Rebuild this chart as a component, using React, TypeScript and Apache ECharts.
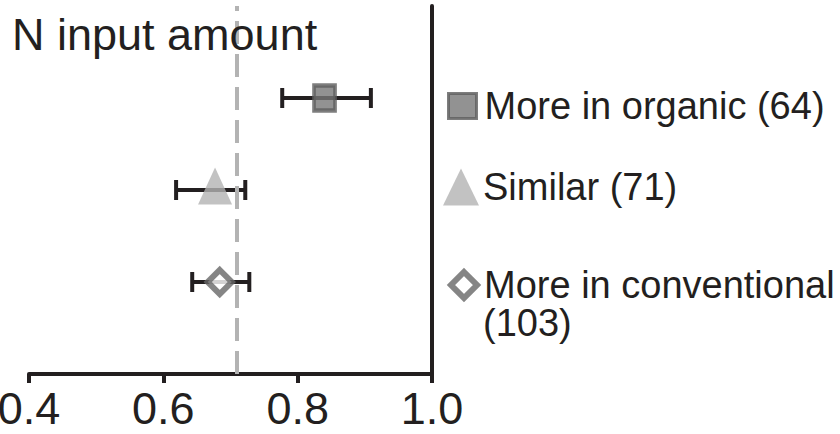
import React, { useEffect, useRef } from "react";
import * as echarts from "echarts";

const groups = ["More in organic (64)", "Similar (71)", "More in conventional (103)"];
const legendLines = ["More in organic (64)", "Similar (71)", "More in conventional"];
const extraLegendLine = "(103)";
const means = [0.84, 0.677, 0.684];
const lower = [0.777, 0.619, 0.643];
const upper = [0.909, 0.722, 0.728];
const rowPos = [3, 2, 1];
const referenceValue = 0.71;
const xTicks = [0.4, 0.6, 0.8, 1.0];
const titleText = "N input amount";

const INK = "#231f20";
const FONT = "'Liberation Sans', Arial, sans-serif";

export default function App() {
  const ref = useRef<HTMLDivElement>(null);
  useEffect(() => {
    if (!ref.current) return;
    const chart = echarts.init(ref.current, undefined, { renderer: "svg" });

    const symbols = [
      { symbol: "rect", size: [21, 25], offset: [0, 0], item: { color: "#777777", borderColor: "#5e5e5e", borderWidth: 4 } },
      { symbol: "triangle", size: [34, 37], offset: [0, -4], item: { color: "#b3b3b3", borderWidth: 0 } },
      { symbol: "diamond", size: 24, offset: [0, 0], item: { color: "#ffffff", borderColor: "#666666", borderWidth: 6 } },
    ];

    const scatterSeries = groups.map((g, i) => ({
      name: g,
      type: "scatter",
      symbol: symbols[i].symbol,
      symbolSize: symbols[i].size,
      symbolOffset: symbols[i].offset,
      itemStyle: symbols[i].item,
      z: 5,
      data: [[means[i], rowPos[i]]],
    }));

    const legendBoxes = [
      { top: 87, left: 447, w: 28, h: 25, gap: 8, icon: "rect", style: { color: "#777777", borderColor: "#5e5e5e", borderWidth: 3 } },
      { top: 168, left: 443, w: 36, h: 37, gap: 4, icon: "triangle", style: { color: "#b3b3b3", borderWidth: 0 } },
      { top: 266, left: 448, w: 26, h: 26, gap: 7, icon: "diamond", style: { color: "#ffffff", borderColor: "#666666", borderWidth: 6 } },
    ];

    const option: any = {
      animation: false,
      title: {
        text: titleText,
        left: 12,
        top: 12,
        padding: 0,
        textStyle: { fontSize: 45, fontWeight: "normal", color: INK, fontFamily: FONT },
      },
      legend: groups.map((g, i) => ({
        orient: "vertical",
        left: legendBoxes[i].left,
        top: legendBoxes[i].top,
        padding: 0,
        itemWidth: legendBoxes[i].w,
        itemHeight: legendBoxes[i].h,
        itemGap: 0,
        selectedMode: false,
        data: [{ name: g, icon: legendBoxes[i].icon, itemStyle: legendBoxes[i].style }],
        formatter: () => legendLines[i],
        textStyle: {
          fontSize: 38,
          lineHeight: 38,
          color: INK,
          fontFamily: FONT,
          padding: [0, 0, 0, legendBoxes[i].gap - 5],
        },
      })),
      graphic: [
        {
          type: "text",
          left: 483,
          top: 304,
          style: { text: extraLegendLine, fontSize: 38, lineHeight: 38, fill: INK, fontFamily: FONT },
        },
      ],
      grid: { left: 29, right: 408, top: 6, bottom: 60, containLabel: false, outerBoundsMode: "none" },
      xAxis: {
        type: "value",
        min: 0.4,
        max: 1.0,
        interval: 0.2,
        axisLine: { show: true, lineStyle: { color: INK, width: 4 } },
        axisTick: { show: true, length: 9, lineStyle: { color: INK, width: 4 } },
        splitLine: { show: false },
        axisLabel: {
          margin: 12,
          fontSize: 45,
          lineHeight: 45,
          color: INK,
          fontFamily: FONT,
          formatter: (v: number) => {
            const t = xTicks.find((x) => Math.abs(x - v) < 1e-6);
            return t === undefined ? "" : t.toFixed(1);
          },
        },
      },
      yAxis: {
        type: "value",
        position: "right",
        min: 0,
        max: 4,
        axisLine: { show: true, lineStyle: { color: INK, width: 4 } },
        axisTick: { show: false },
        axisLabel: { show: false },
        splitLine: { show: false },
      },
      series: [
        {
          name: "reference",
          type: "line",
          data: [],
          markLine: {
            silent: true,
            symbol: "none",
            label: { show: false },
            lineStyle: { type: [23, 10], color: "#b3b3b3", width: 4 },
            data: [{ xAxis: referenceValue }],
          },
          z: 1,
        },
        {
          name: "ci",
          type: "custom",
          z: 3,
          data: groups.map((_, i) => [rowPos[i], lower[i], upper[i]]),
          renderItem: (_params: any, api: any) => {
            const y = api.value(0);
            const lo = api.coord([api.value(1), y]);
            const hi = api.coord([api.value(2), y]);
            const st = { stroke: INK, lineWidth: 4 };
            return {
              type: "group",
              children: [
                { type: "line", shape: { x1: lo[0], y1: lo[1], x2: hi[0], y2: hi[1] }, style: st },
                { type: "line", shape: { x1: lo[0], y1: lo[1] - 10, x2: lo[0], y2: lo[1] + 10 }, style: st },
                { type: "line", shape: { x1: hi[0], y1: hi[1] - 10, x2: hi[0], y2: hi[1] + 10 }, style: st },
              ],
            };
          },
        },
        ...scatterSeries,
      ],
    };
    chart.setOption(option);
    return () => chart.dispose();
  }, []);
  return (
    <div
      ref={ref}
      style={{ position: "fixed", left: 0, top: 0, width: 840, height: 434, background: "#ffffff" }}
    />
  );
}
